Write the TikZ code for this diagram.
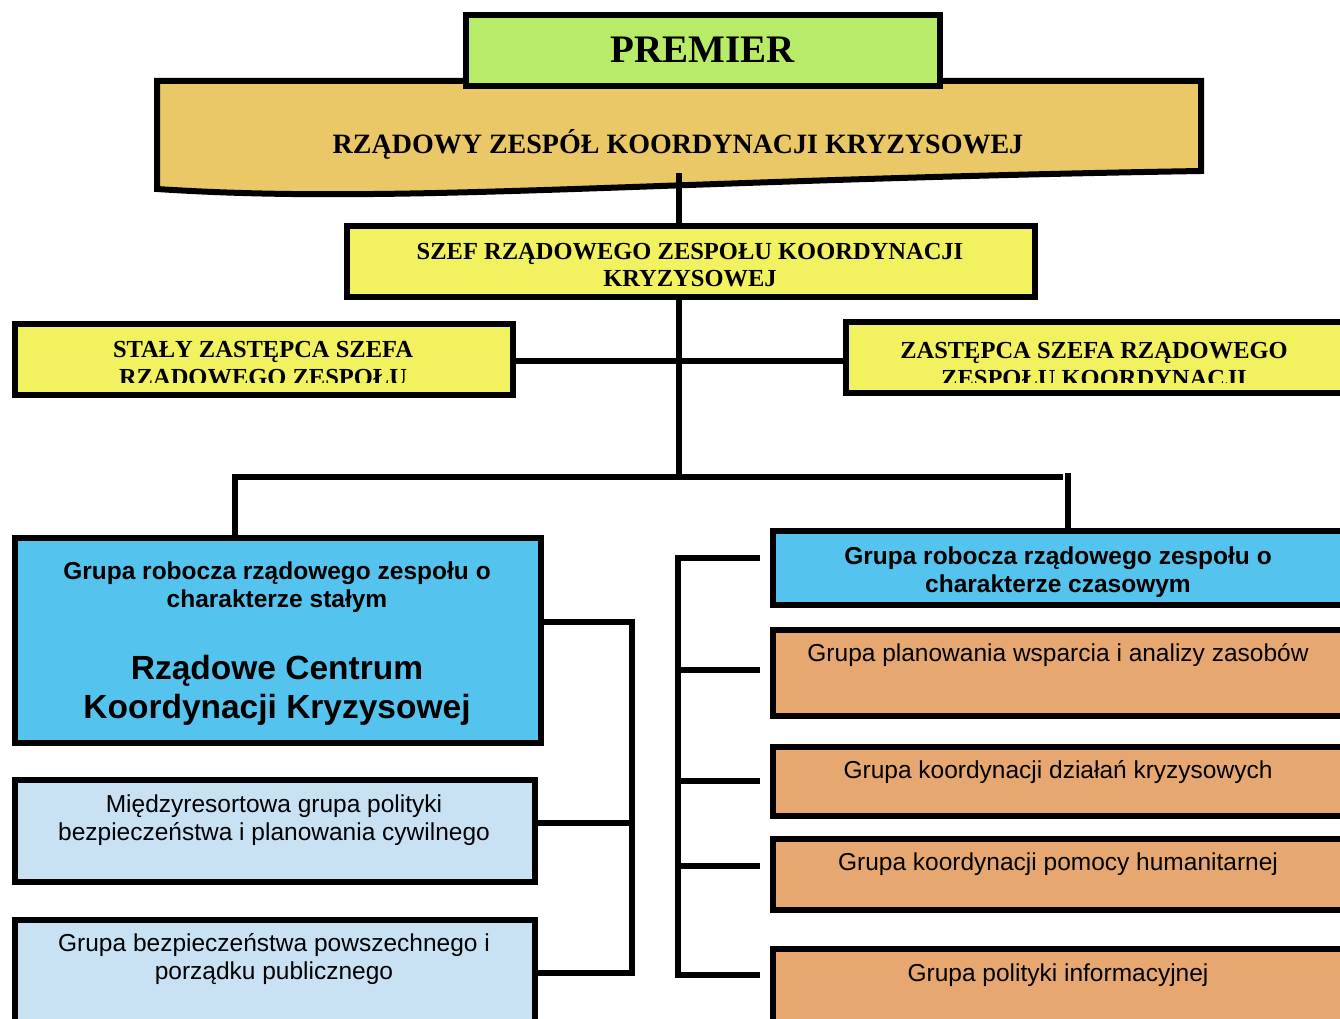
\documentclass[tikz,border=0pt]{standalone}
\usepackage{fontspec}
\setmainfont{Liberation Serif}
\newfontfamily\arialfont{Liberation Sans}
\usetikzlibrary{calc}

\definecolor{premiergreen}{RGB}{184,236,104}
\definecolor{rzadgold}{RGB}{234,200,104}
\definecolor{szefyellow}{RGB}{242,242,96}
\definecolor{grupablue}{RGB}{84,196,238}
\definecolor{grupalight}{RGB}{200,226,244}
\definecolor{grupaorange}{RGB}{230,168,112}

\tikzset{
  box/.style={draw, line width=6pt, inner sep=0pt},
  link/.style={line width=6pt, line cap=rect},
  headtxt/.style={font=\bfseries\fontsize{24.5}{27}\selectfont, align=center, inner sep=0pt},
  grtxt/.style={font=\arialfont\bfseries\fontsize{24.5}{28}\selectfont, align=center, inner sep=0pt},
  bigtxt/.style={font=\arialfont\bfseries\fontsize{33.5}{39}\selectfont, align=center, inner sep=0pt},
  plaintxt/.style={font=\arialfont\fontsize{24.5}{28}\selectfont, align=center, inner sep=0pt}
}

\begin{document}
\begin{tikzpicture}[x=1pt,y=-1pt]
\useasboundingbox (0,0) rectangle (1340,1019);

% Top of the structure
\draw[line width=6pt, fill=rzadgold] (157,81) -- (1201,81) -- (1201,171)
  .. controls (650,180) and (400,205) .. (157,189) -- cycle;
\node[headtxt, font=\bfseries\fontsize{28}{30}\selectfont, anchor=base] (rzad) at (678,154) {RZĄDOWY ZESPÓŁ KOORDYNACJI KRYZYSOWEJ};
\node[box, fill=premiergreen, minimum width=474pt, minimum height=71pt] (premier) at (702.5,51) {};
\node[headtxt, font=\bfseries\fontsize{39}{40}\selectfont, anchor=base] (premiertxt) at (702.5,63) {PREMIER};

\node[box, fill=szefyellow, minimum width=688pt, minimum height=71pt] (szef) at (690.5,261) {};
\node[headtxt] (szeftxt) at (690,265) {SZEF RZĄDOWEGO ZESPOŁU KOORDYNACJI\\KRYZYSOWEJ};

% Deputies
\node[box, fill=szefyellow, minimum width=498pt, minimum height=71pt] (staly) at (263.5,359) {};
\node[box, fill=szefyellow, minimum width=505pt, minimum height=71pt] (zast) at (1098,357.5) {};
\begin{scope}
  \clip (0,320) rectangle (1340,382);
  \node[headtxt, font=\bfseries\fontsize{24.5}{28}\selectfont] (stalytxt) at (263,365.5) {STAŁY ZASTĘPCA SZEFA\\RZĄDOWEGO ZESPOŁU};
  \node[headtxt, font=\bfseries\fontsize{24.5}{28}\selectfont] (zasttxt) at (1094,364.5) {ZASTĘPCA SZEFA RZĄDOWEGO\\ZESPOŁU KOORDYNACJI};
\end{scope}

% Trunk and deputy line
\coordinate (rzadbot) at (679,176);
\coordinate (sZ) at (679,361);
\coordinate (barC) at (679,476.5);
\coordinate (barL) at (235,476.5);
\coordinate (barR) at (1060,476.5);
\coordinate (dropR) at (1068,476);
\draw[link] (rzadbot) -- (szef.north -| rzadbot);
\draw[link] (szef.south -| rzadbot) -- (barC);
\draw[link] (staly.east |- sZ) -- (sZ -| zast.west);

% Left column
\node[box, fill=grupablue, minimum width=526pt, minimum height=205pt] (grL) at (277.5,640) {};
\node[grtxt] (grLtxt) at (277,587) {Grupa robocza rządowego zespołu o\\charakterze stałym};
\node[bigtxt] (rcktxt) at (277,690) {Rządowe Centrum\\Koordynacji Kryzysowej};
\node[box, fill=grupalight, minimum width=520pt, minimum height=102pt] (midz) at (274.5,830.5) {};
\node[plaintxt] (midztxt) at (274,820) {Międzyresortowa grupa polityki\\bezpieczeństwa i planowania cywilnego};
\node[box, fill=grupalight, minimum width=520pt, minimum height=105pt] (bezp) at (274.5,972) {};
\node[plaintxt] (bezptxt) at (274,959) {Grupa bezpieczeństwa powszechnego i\\porządku publicznego};

% Right column
\node[box, fill=grupablue, minimum width=580pt, minimum height=74pt] (grR) at (1062.5,567.5) {};
\node[grtxt] (grRtxt) at (1058,572) {Grupa robocza rządowego zespołu o\\charakterze czasowym};
\node[box, fill=grupaorange, minimum width=580pt, minimum height=86pt] (plan) at (1062.5,672.5) {};
\node[plaintxt] (plantxt) at (1058,655) {Grupa planowania wsparcia i analizy zasobów};
\node[box, fill=grupaorange, minimum width=580pt, minimum height=69pt] (kryz) at (1062.5,781) {};
\node[plaintxt] (kryztxt) at (1058,772) {Grupa koordynacji działań kryzysowych};
\node[box, fill=grupaorange, minimum width=580pt, minimum height=71pt] (hum) at (1062.5,874) {};
\node[plaintxt] (humtxt) at (1058,864) {Grupa koordynacji pomocy humanitarnej};
\node[box, fill=grupaorange, minimum width=580pt, minimum height=74pt] (inf) at (1062.5,985.5) {};
\node[plaintxt] (inftxt) at (1058,975) {Grupa polityki informacyjnej};

% Bar to both columns
\draw[link] (grL.north -| barL) -- (barL) -- (barR);
\draw[link] (dropR) -- (dropR |- grR.north);

% Brackets
\coordinate (sL1) at (632,622);
\coordinate (sL2) at (632,823);
\coordinate (sL3) at (632,973);
\draw[link] (grL.east |- sL1) -- (sL1) -- (sL3) -- (bezp.east |- sL3);
\draw[link] (midz.east |- sL2) -- (sL2);

\foreach \n/\y in {1/558, 2/670, 3/781, 4/866, 5/975}
  \coordinate (sR\n) at (678,\y);
\draw[link] (sR1) -- (sR5);
\foreach \n/\b in {1/grR, 2/plan, 3/kryz, 4/hum, 5/inf}
  \draw[link, shorten >=13pt] (sR\n) -- (sR\n -| \b.west);

\end{tikzpicture}
\end{document}
